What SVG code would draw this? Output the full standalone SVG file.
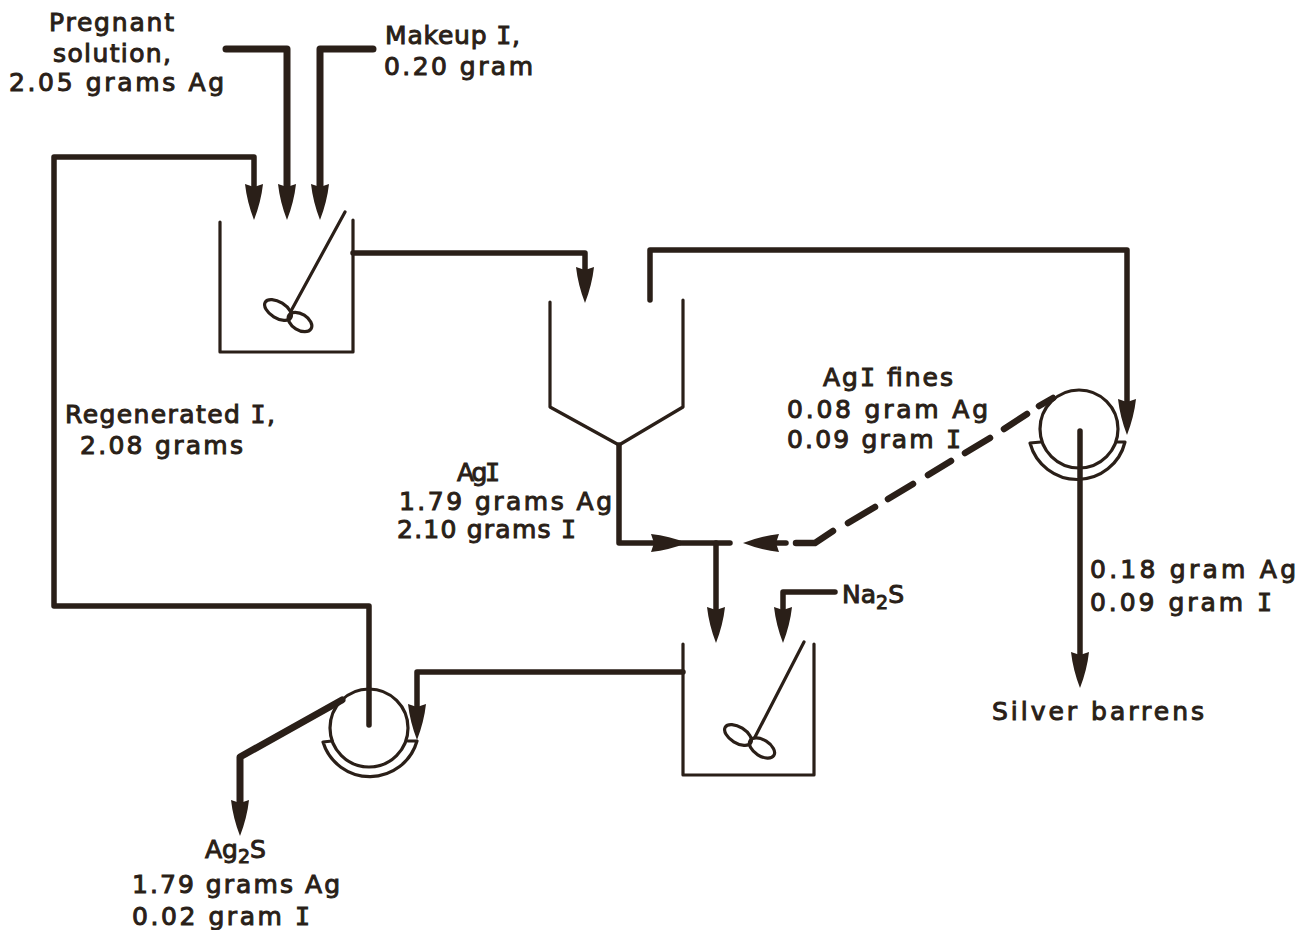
<svg xmlns="http://www.w3.org/2000/svg" width="1308" height="930" viewBox="0 0 1308 930">
<defs>
<marker id="head" markerUnits="userSpaceOnUse" markerWidth="40" markerHeight="22" refX="3" refY="10" orient="auto"><path d="M0 1Q18 3 36 10Q18 17 0 19L3 10Z" fill="#2a1f18"/></marker>
</defs>
<style>
.t{font-family:"DejaVu Sans",Verdana,sans-serif;font-size:25px;fill:#2a1f18;stroke:#2a1f18;stroke-width:1px}
.s{font-size:19px}
.i{font-family:"DejaVu Sans Mono",monospace}
.thin{fill:none;stroke:#2a1f18;stroke-width:3.2px;stroke-linecap:round;stroke-linejoin:round}
.pipe{fill:none;stroke:#2a1f18;stroke-width:5.5px;stroke-linejoin:round;stroke-linecap:round}
.heavy{stroke-width:7px}
.dash{stroke-width:6.5px}
</style>
<rect width="1308" height="930" fill="#ffffff"/>
<g id="connectors">
<path class="pipe heavy" d="M226 49H287V187" marker-end="url(#head)"/>
<path class="pipe heavy" d="M373 49H320V187" marker-end="url(#head)"/>
<path class="pipe" d="M369 725V606H54V157H254V187" marker-end="url(#head)"/>
<path class="pipe" d="M353 253H585V270" marker-end="url(#head)"/>
<path class="pipe" d="M650 300V250H1127V402" marker-end="url(#head)"/>
<path class="pipe" d="M619 445V543H654" marker-end="url(#head)"/>
<path class="pipe" d="M680 543H730"/>
<path class="pipe" d="M716 543V610" marker-end="url(#head)"/>
<path class="pipe" d="M835 592H783V610" marker-end="url(#head)"/>
<path class="pipe" d="M683 672H417V707" marker-end="url(#head)"/>
<path class="pipe heavy" d="M342 700L240 757V803" marker-end="url(#head)"/>
<path class="pipe" d="M1080 431V655" marker-end="url(#head)"/>
<path class="pipe" d="M786 543H776" marker-end="url(#head)"/>
<path class="pipe dash" d="M796 543H815L833 531M848 523L875 507M888 499L913 484M928 475L951 461M965 453L990 438M1004 429L1027 414M1039 406L1053 398"/>
</g>
<g id="mixer-1">
<path class="thin" d="M220 222V352H353V220"/>
<path class="thin" d="M345 212L291 311"/>
<ellipse class="thin" cx="278" cy="310" rx="15" ry="8" transform="rotate(32 278 310)"/>
<ellipse class="thin" cx="300" cy="322" rx="13" ry="8" transform="rotate(32 300 322)"/>
</g>
<g id="thickener">
<path class="thin" d="M550 302V407L619 445L683 407V300"/>
</g>
<g id="mixer-2">
<path class="thin" d="M683 644V775H814V644"/>
<path class="thin" d="M804 642L755 737"/>
<ellipse class="thin" cx="738" cy="735" rx="15" ry="8" transform="rotate(32 738 735)"/>
<ellipse class="thin" cx="762" cy="748" rx="14" ry="8" transform="rotate(32 762 748)"/>
</g>
<g id="filter-1">
<circle class="thin" cx="1079" cy="429" r="39"/>
<path class="thin" d="M1041 442L1030 443A49 49 0 0 0 1125 442H1117"/>
</g>
<g id="filter-2">
<circle class="thin" cx="369" cy="728" r="39"/>
<path class="thin" d="M332 741L323 742A49 49 0 0 0 417 741H408"/>
</g>
<g id="labels">
<text class="t" x="49" y="31" textLength="125">Pregnant</text>
<text class="t" x="53" y="62" textLength="118">solution,</text>
<text class="t" x="9" y="91" textLength="215">2.05 grams Ag</text>
<text class="t" x="385" y="44" textLength="135">Makeup <tspan class="i">I</tspan>,</text>
<text class="t" x="384" y="75" textLength="149">0.20 gram</text>
<text class="t" x="65" y="423" textLength="210">Regenerated <tspan class="i">I</tspan>,</text>
<text class="t" x="80" y="454" textLength="163">2.08 grams</text>
<text class="t" x="457" y="481" textLength="43">Ag<tspan class="i">I</tspan></text>
<text class="t" x="399" y="510" textLength="213">1.79 grams Ag</text>
<text class="t" x="397" y="538" textLength="179">2.10 grams <tspan class="i">I</tspan></text>
<text class="t" x="823" y="386" textLength="130">Ag<tspan class="i">I</tspan> fines</text>
<text class="t" x="787" y="418" textLength="201">0.08 gram Ag</text>
<text class="t" x="787" y="448" textLength="174">0.09 gram <tspan class="i">I</tspan></text>
<text class="t" x="1090" y="578" textLength="206">0.18 gram Ag</text>
<text class="t" x="1090" y="611" textLength="182">0.09 gram <tspan class="i">I</tspan></text>
<text class="t" x="992" y="720" textLength="212">Silver barrens</text>
<text class="t" x="842" y="603">Na<tspan class="s" dy="6">2</tspan><tspan dy="-6">S</tspan></text>
<text class="t" x="205" y="858">Ag<tspan class="s" dy="5">2</tspan><tspan dy="-5">S</tspan></text>
<text class="t" x="132" y="893" textLength="208">1.79 grams Ag</text>
<text class="t" x="132" y="925" textLength="178">0.02 gram <tspan class="i">I</tspan></text>
</g>
</svg>
